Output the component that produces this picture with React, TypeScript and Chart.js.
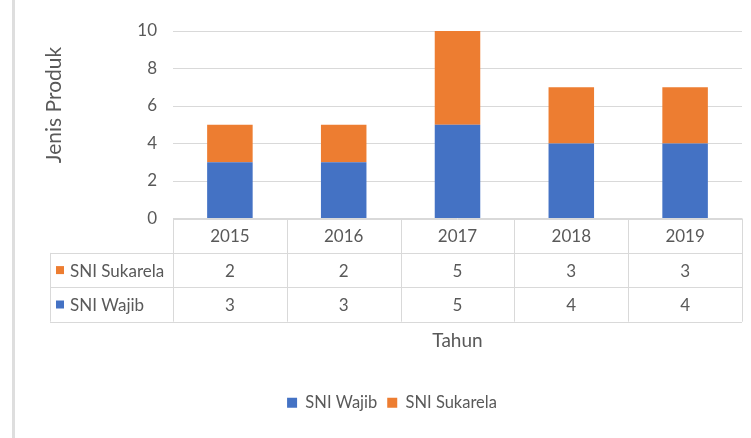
import React, { useEffect, useRef } from "react";
import { Chart, registerables } from "chart.js";

Chart.register(...registerables);

const categories = ["2015", "2016", "2017", "2018", "2019"];
const sniWajib = [3, 3, 5, 4, 4];
const sniSukarela = [2, 2, 5, 3, 3];
const yTicks = [0, 2, 4, 6, 8, 10];

const BLUE = "#4472C4";
const ORANGE = "#ED7D31";
const TEXT = "#595959";
const GRID = "#D9D9D9";
const FONT = "Lato, 'Open Sans', sans-serif";

const tablePlugin = {
  id: "dataTable",
  beforeDraw(chart: any) {
    const ctx = chart.ctx;
    ctx.save();
    ctx.fillStyle = "#DEDEDE";
    ctx.fillRect(12, 0, 3, chart.height);
    ctx.restore();
  },
  afterDraw(chart: any) {
    const ctx = chart.ctx;
    const x = chart.scales.x;
    const area = chart.chartArea;
    const n = categories.length;
    const colW = (x.right - x.left) / n;
    const top = area.bottom;
    const rowH = 34.4;
    const labelLeft = 50;
    ctx.save();
    ctx.strokeStyle = GRID;
    ctx.lineWidth = 1;
    const hline = (x1: number, x2: number, y: number) => {
      ctx.beginPath();
      ctx.moveTo(x1, Math.round(y) + 0.5);
      ctx.lineTo(x2, Math.round(y) + 0.5);
      ctx.stroke();
    };
    const vline = (xx: number, y1: number, y2: number) => {
      ctx.beginPath();
      ctx.moveTo(Math.round(xx) + 0.5, y1);
      ctx.lineTo(Math.round(xx) + 0.5, y2);
      ctx.stroke();
    };
    hline(x.left, x.right, top);
    hline(labelLeft, x.right, top + rowH);
    hline(labelLeft, x.right, top + 2 * rowH);
    hline(labelLeft, x.right, top + 3 * rowH);
    vline(labelLeft, top + rowH, top + 3 * rowH);
    for (let i = 0; i <= n; i++) {
      vline(x.left + i * colW, top, top + 3 * rowH);
    }
    ctx.font = "17px " + FONT;
    ctx.fillStyle = TEXT;
    ctx.textAlign = "center";
    ctx.textBaseline = "middle";
    categories.forEach((c, i) => {
      const cx = x.getPixelForValue(i);
      ctx.fillText(c, cx, top + rowH / 2 + 1);
      ctx.fillText(String(sniSukarela[i]), cx, top + rowH * 1.5 + 1);
      ctx.fillText(String(sniWajib[i]), cx, top + rowH * 2.5 + 1);
    });
    const rows = [
      { label: "SNI Sukarela", color: ORANGE },
      { label: "SNI Wajib", color: BLUE },
    ];
    rows.forEach((r, k) => {
      const cy = top + rowH * (1.5 + k);
      ctx.fillStyle = r.color;
      ctx.fillRect(56, cy - 4, 8, 8);
      ctx.fillStyle = TEXT;
      ctx.textAlign = "left";
      ctx.fillText(r.label, 70, cy + 1);
    });
    // Y axis title
    ctx.font = "21px " + FONT;
    ctx.translate(54, 105);
    ctx.rotate(-Math.PI / 2);
    ctx.textAlign = "center";
    ctx.fillStyle = TEXT;
    ctx.fillText("Jenis Produk", 0, 0);
    ctx.restore();
  },
};

export default function App() {
  const ref = useRef<HTMLCanvasElement>(null);
  useEffect(() => {
    document.body.style.margin = "0";
    const chart = new Chart(ref.current as HTMLCanvasElement, {
      type: "bar",
      data: {
        labels: categories,
        datasets: [
          { label: "SNI Wajib", data: sniWajib, backgroundColor: BLUE, barPercentage: 0.4, categoryPercentage: 1 },
          { label: "SNI Sukarela", data: sniSukarela, backgroundColor: ORANGE, barPercentage: 0.4, categoryPercentage: 1 },
        ],
      },
      options: {
        animation: false,
        responsive: false,
        maintainAspectRatio: false,
        layout: { padding: { left: 42, right: 9, top: 31, bottom: 17 } },
        plugins: {
          tooltip: { enabled: false },
          legend: {
            position: "bottom",
            labels: {
              boxWidth: 10,
              boxHeight: 10,
              padding: 10,
              color: TEXT,
              font: { size: 16.5, family: FONT },
            },
          },
        },
        scales: {
          x: {
            stacked: true,
            grid: { display: false },
            border: { display: false },
            ticks: { display: false },
            title: {
              display: true,
              text: "Tahun",
              color: TEXT,
              font: { size: 19, family: FONT },
              padding: { top: 0, bottom: 32 },
            },
            afterFit: (s: any) => {
              s.height = 166;
            },
          },
          y: {
            stacked: true,
            min: 0,
            max: 10,
            afterBuildTicks: (s: any) => {
              s.ticks = yTicks.map((v) => ({ value: v }));
            },
            grid: { color: GRID, drawTicks: false },
            border: { display: false },
            ticks: { color: TEXT, padding: 16, font: { size: 17, family: FONT } },
            afterFit: (s: any) => {
              s.width = 131;
            },
          },
        },
      },
      plugins: [tablePlugin],
    } as any);
    return () => chart.destroy();
  }, []);
  return <canvas ref={ref} width={751} height={438} style={{ display: "block" }} />;
}
